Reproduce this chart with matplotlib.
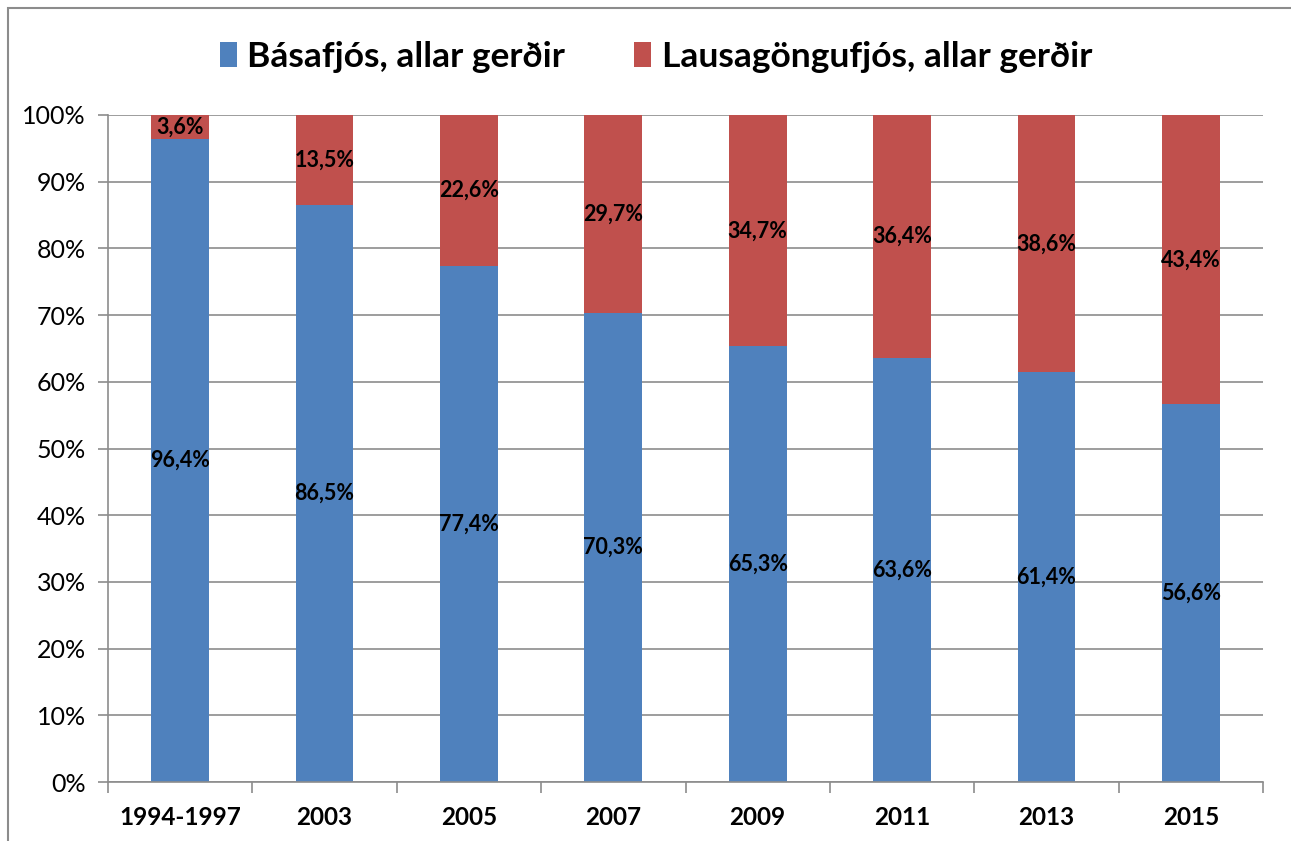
import matplotlib.pyplot as plt
import numpy as np
from matplotlib.patches import Rectangle

plt.rcParams['font.family'] = ['Lato', 'DejaVu Sans']

categories = ['1994-1997', '2003', '2005', '2007', '2009', '2011', '2013', '2015']
basafjos = [96.4, 86.5, 77.4, 70.3, 65.3, 63.6, 61.4, 56.6]
lausagongu = [3.6, 13.5, 22.6, 29.7, 34.7, 36.4, 38.6, 43.4]
series_names = ['Básafjós, allar gerðir', 'Lausagöngufjós, allar gerðir']

blue = '#4F81BD'
red = '#C0504D'

fig = plt.figure(figsize=(12.91, 8.41), dpi=100)
ax = fig.add_axes([108 / 1291, 1 - 782 / 841, (1263 - 108) / 1291, (782 - 115) / 841])

x = np.arange(len(categories))
b1 = ax.bar(x, basafjos, width=0.4, color=blue, label=series_names[0], zorder=2)
b2 = ax.bar(x, lausagongu, width=0.4, bottom=basafjos, color=red, label=series_names[1], zorder=2)

def fmt(v):
    return f'{v:.1f}%'.replace('.', ',')

for xi, v1, v2 in zip(x, basafjos, lausagongu):
    ax.text(xi, v1 / 2, fmt(v1), ha='center', va='center', fontsize=15.5, fontweight='bold', zorder=3)
    ax.text(xi, v1 + v2 / 2, fmt(v2), ha='center', va='center', fontsize=15.5, fontweight='bold', zorder=3)

ax.set_xlim(-0.5, len(categories) - 0.5)
ax.set_ylim(0, 100)
ax.set_yticks(np.arange(0, 101, 10))
ax.set_yticklabels([f'{t}%' for t in range(0, 101, 10)], fontsize=18)
ax.yaxis.grid(True, color='#8c8c8c', linewidth=1.2, zorder=0)
ax.set_axisbelow(True)

ax.set_xticks(x)
ax.set_xticklabels(categories, fontsize=17.5, fontweight='bold')
ax.tick_params(axis='x', length=0, pad=17)
ax.set_xticks(np.arange(-0.5, len(categories)), minor=True)
ax.tick_params(axis='x', which='minor', length=8, color='#8c8c8c', width=1.2, direction='out')
ax.tick_params(axis='y', length=7, color='#8c8c8c', width=1.2, pad=9)

for s in ['top', 'right']:
    ax.spines[s].set_visible(False)
for s in ['left', 'bottom']:
    ax.spines[s].set_color('#8c8c8c')
    ax.spines[s].set_linewidth(1.2)

fig.legend(handles=[b1, b2], labels=series_names, loc='center', bbox_to_anchor=(656 / 1291, 1 - 57 / 841),
           ncol=2, frameon=False, prop={'size': 25.5, 'weight': 'bold'},
           handlelength=0.47, handleheight=0.7, columnspacing=1.95, handletextpad=0.3)

fig.patches.append(Rectangle((8 / 1291, -0.01), 1.02, 1 - 8 / 841 + 0.01, transform=fig.transFigure,
                             fill=False, edgecolor='#8c8c8c', linewidth=1.5))

fig.savefig('out.png', dpi=100)
